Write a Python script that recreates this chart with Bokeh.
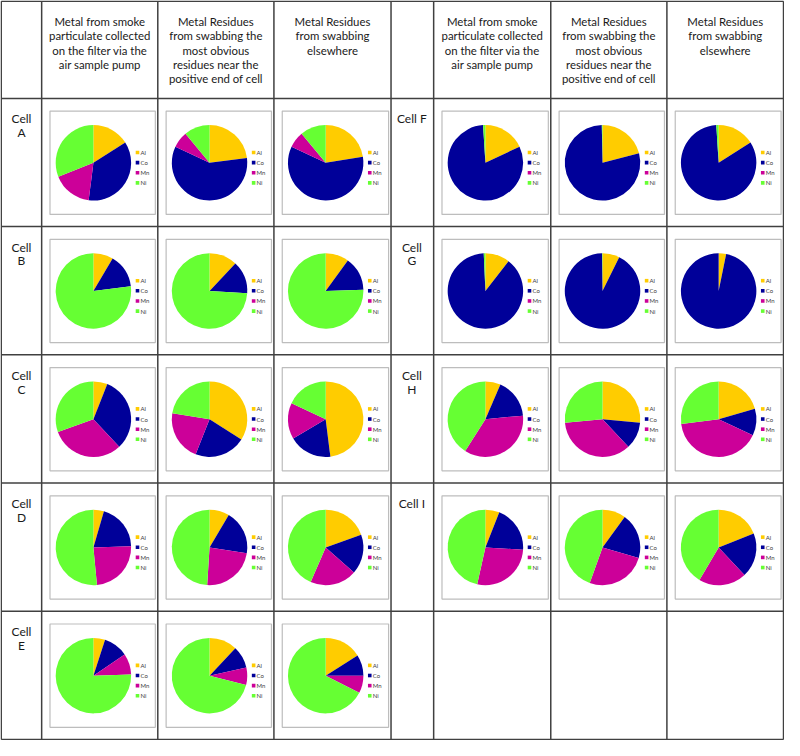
import math
from bokeh.plotting import figure
from bokeh.models import ColumnDataSource, Range1d
from bokeh.core.properties import value
from bokeh.embed import file_html
from bokeh.resources import INLINE

# ---------------- data ----------------
metals = ["Al", "Co", "Mn", "Ni"]
metal_colors = ["#FFCC00", "#000099", "#CC0099", "#66FF33"]

column_headers = [
    ["Metal from smoke", "particulate collected", "on the filter via the", "air sample pump"],
    ["Metal Residues", "from swabbing the", "most obvious", "residues near the", "positive end of cell"],
    ["Metal Residues", "from swabbing", "elsewhere"],
]

left_labels = [["Cell", "A"], ["Cell", "B"], ["Cell", "C"], ["Cell", "D"], ["Cell", "E"]]
right_labels = [["Cell F"], ["Cell", "G"], ["Cell", "H"], ["Cell I"]]

# composition [Al, Co, Mn, Ni] (%) for: filter / obvious residues / elsewhere
cell_A = [[16, 36, 17, 31], [23, 59, 7, 11], [22.5, 59.5, 7, 11]]
cell_B = [[8.5, 14.5, 0, 77], [12, 14, 0, 74], [10, 14.5, 0, 75.5]]
cell_C = [[6, 32, 31.5, 30.5], [34, 22, 21.5, 22.5], [48, 18.5, 15.5, 18]]
cell_D = [[4.5, 20, 24, 51.5], [8.5, 19, 23.5, 49], [19.5, 17, 20, 43.5]]
cell_E = [[5, 10.5, 9, 75.5], [12, 9.5, 7.5, 71], [16, 9, 7.5, 67.5]]
cell_F = [[18, 81, 0, 1], [21, 78.7, 0, 0.3], [16, 83, 0, 1]]
cell_G = [[10.5, 88.8, 0, 0.7], [7.3, 92.5, 0, 0.2], [3.2, 96.8, 0, 0]]
cell_H = [[6.5, 17, 35.5, 41], [26.5, 11.5, 35.5, 26.5], [20.5, 11.5, 41, 27]]
cell_I = [[6, 20, 27.5, 46.5], [10, 19.5, 26, 44.5], [19, 19, 20.5, 41.5]]

left_cells = [cell_A, cell_B, cell_C, cell_D, cell_E]
right_cells = [cell_F, cell_G, cell_H, cell_I]

# ---------------- layout ----------------
W, H = 800, 756
col_x = [0.75, 42, 160.5, 279, 398.5, 442, 561.5, 680, 799]
row_y = [0.75, 100, 231, 362, 493, 624, 755]
LINE = "#404040"
FONT = value("Lato")


def Y(y):
    return H - y


p = figure(width=784, height=740, x_range=Range1d(0, W), y_range=Range1d(0, H),
           output_backend="svg", toolbar_location=None, min_border=0,
           x_axis_type=None, y_axis_type=None)
p.grid.visible = False
p.outline_line_color = None
p.background_fill_color = "white"

# table grid
p.segment(x0=[col_x[0]] * len(row_y), x1=[col_x[-1]] * len(row_y),
          y0=[Y(v) for v in row_y], y1=[Y(v) for v in row_y],
          line_color=LINE, line_width=1.5)
p.segment(x0=col_x, x1=col_x, y0=[Y(row_y[0])] * len(col_x), y1=[Y(row_y[-1])] * len(col_x),
          line_color=LINE, line_width=1.5)

# headers
hx, hy, ht = [], [], []
for side_cols in ([1, 2, 3], [5, 6, 7]):
    for j, ci in enumerate(side_cols):
        cx = (col_x[ci] + col_x[ci + 1]) / 2
        for k, line in enumerate(column_headers[j]):
            hx.append(cx)
            hy.append(Y(21.7 + 14.5 * k))
            ht.append(line)
p.text(x=hx, y=hy, text=ht, text_align="center", text_baseline="middle",
       text_font=FONT, text_font_size="11.4px", text_color="#1a1a1a")

# row labels
lx, ly, lt = [], [], []
for side, (labels, ci) in enumerate(((left_labels, 0), (right_labels, 4))):
    cx = (col_x[ci] + col_x[ci + 1]) / 2 + (0 if side == 0 else -0.5)
    for r, lab in enumerate(labels):
        top = row_y[r + 1]
        for k, line in enumerate(lab):
            lx.append(cx)
            ly.append(Y(top + 21 + 14 * k))
            lt.append(line)
p.text(x=lx, y=ly, text=lt, text_align="center", text_baseline="middle",
       text_font=FONT, text_font_size="12px", text_color="#1a1a1a")

# pie charts
bl, br, bt, bb = [], [], [], []
wx, wy, ws, we, wc = [], [], [], [], []
mx, my, mc = [], [], []
tx, ty, tt = [], [], []
R = 38.5
for cells, cols in ((left_cells, [1, 2, 3]), (right_cells, [5, 6, 7])):
    for r, cell in enumerate(cells):
        top, bottom = row_y[r + 1], row_y[r + 2]
        for j, ci in enumerate(cols):
            left, right = col_x[ci], col_x[ci + 1]
            b_left, b_right = left + 8.5, right - 2.5
            b_top, b_bottom = top + 13, bottom - 12.5
            bl.append(b_left); br.append(b_right); bt.append(Y(b_top)); bb.append(Y(b_bottom))
            pcx = b_left + 44.3
            pcy = (b_top + b_bottom) / 2
            vals = cell[j]
            total = float(sum(vals))
            cum = 0.0
            for v, c in zip(vals, metal_colors):
                if v <= 0:
                    continue
                s = cum / total
                cum += v
                e = cum / total
                wx.append(pcx); wy.append(Y(pcy))
                ws.append(math.pi / 2 - 2 * math.pi * e)
                we.append(math.pi / 2 - 2 * math.pi * s)
                wc.append(c)
            for k, (m, c) in enumerate(zip(metals, metal_colors)):
                yy = pcy - 10.5 + 10.35 * k
                mx.append(b_left + 89.3); my.append(Y(yy)); mc.append(c)
                tx.append(b_left + 92.3); ty.append(Y(yy)); tt.append(m)

p.quad(left=bl, right=br, top=bt, bottom=bb, fill_color="white",
       line_color="#BDBDBD", line_width=1.2)
p.wedge(x="x", y="y", radius=R, start_angle="s", end_angle="e", color="c",
        line_color=None, direction="anticlock",
        source=ColumnDataSource(dict(x=wx, y=wy, s=ws, e=we, c=wc)))
p.scatter(x=mx, y=my, marker="square", size=3.6, fill_color=mc, line_color=None)
p.text(x=tx, y=ty, text=tt, text_align="left", text_baseline="middle",
       text_font=FONT, text_font_size="6px", text_color="#404040")

open("out.html", "w").write(file_html(p, INLINE))
